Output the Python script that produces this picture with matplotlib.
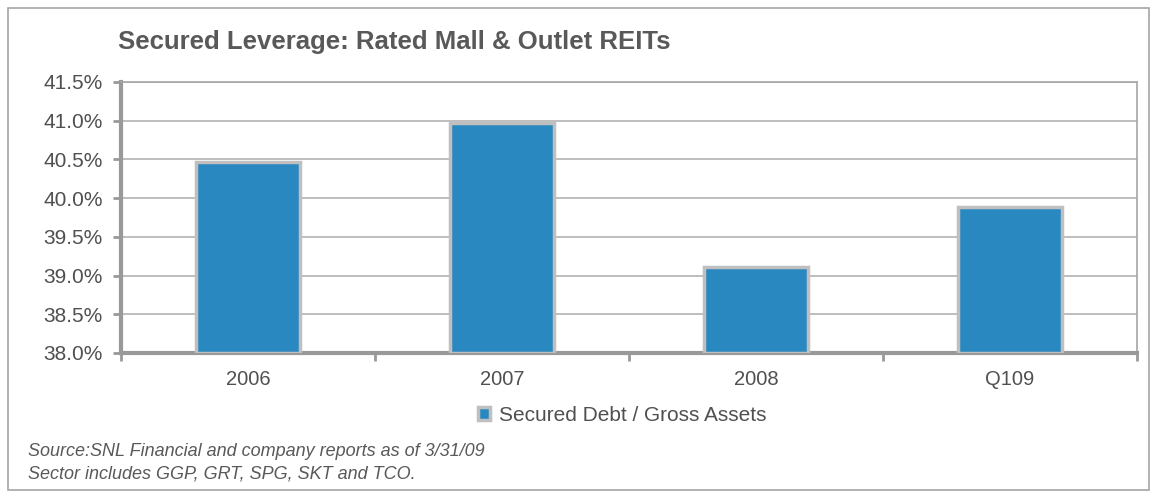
import matplotlib.pyplot as plt
from matplotlib.patches import Rectangle
from matplotlib.ticker import FuncFormatter, MultipleLocator
import numpy as np

# data
categories = ['2006', '2007', '2008', 'Q109']
secured_leverage = [40.47, 40.97, 39.11, 39.88]
series_name = 'Secured Debt / Gross Assets'

plt.rcParams['font.family'] = ['Liberation Sans', 'DejaVu Sans']

fig = plt.figure(figsize=(11.57, 4.98), dpi=100)
fig.patch.set_facecolor('white')

# outer frame
fig.patches.append(Rectangle((8 / 1157, 8 / 498), 1141 / 1157, 482 / 498,
                             transform=fig.transFigure, fill=False,
                             edgecolor='#a6a6a6', linewidth=1.2))

ax = fig.add_axes([121 / 1157, 1 - 353 / 498, (1137 - 121) / 1157, (353 - 82) / 498])

x = np.arange(len(categories))
ax.bar(x, np.array(secured_leverage) - 38.0, bottom=38.0, width=0.41,
       color='#2a88c0', edgecolor='#bfbfbf', linewidth=2.5, zorder=3,
       label=series_name)

ax.set_xlim(-0.5, len(categories) - 0.5)
ax.set_ylim(38.0, 41.5)
ax.yaxis.set_major_locator(MultipleLocator(0.5))
ax.yaxis.set_major_formatter(FuncFormatter(lambda v, p: f'{v:.1f}%'))
ax.grid(axis='y', color='#b3b3b3', linewidth=1.2, zorder=0)

ax.set_xticks(x)
ax.set_xticklabels(categories)
ax.set_xticks(np.arange(-0.5, len(categories)), minor=True)
ax.tick_params(axis='x', which='major', length=0, pad=12, labelsize=14.5, labelcolor='#505050')
ax.tick_params(axis='x', which='minor', length=6, width=2, color='#999999', direction='out')
ax.tick_params(axis='y', length=6, width=2, color='#999999', labelsize=15,
               labelcolor='#505050', pad=7)

for s in ['left', 'bottom']:
    ax.spines[s].set_color('#999999')
    ax.spines[s].set_linewidth(3)
for s in ['top', 'right']:
    ax.spines[s].set_color('#a6a6a6')
    ax.spines[s].set_linewidth(1.2)

fig.text(118 / 1157, 1 - 42 / 498, 'Secured Leverage: Rated Mall & Outlet REITs',
         fontsize=18.5, fontweight='bold', color='#595959', va='center', ha='left')

leg = fig.legend(loc='center', bbox_to_anchor=(622 / 1157, 1 - 415 / 498), frameon=False,
                 fontsize=15, handlelength=0.6, handleheight=0.6, handletextpad=0.4)
for t in leg.get_texts():
    t.set_color('#505050')

fig.text(28 / 1157, 1 - 451 / 498, 'Source:SNL Financial and company reports as of 3/31/09',
         fontsize=13, style='italic', color='#595959', va='center')
fig.text(28 / 1157, 1 - 474 / 498, 'Sector includes GGP, GRT, SPG, SKT and TCO.',
         fontsize=13, style='italic', color='#595959', va='center')

fig.savefig('out.png', dpi=100)
